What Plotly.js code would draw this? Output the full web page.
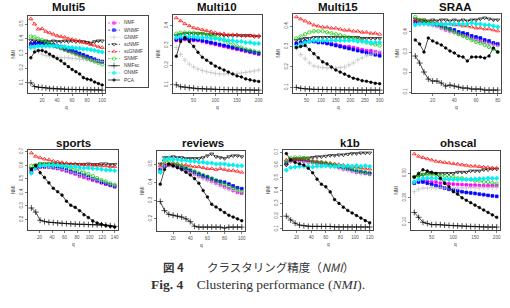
<!DOCTYPE html>
<html>
<head>
<meta charset="utf-8">
<script src="https://cdn.plot.ly/plotly-3.0.1.min.js"></script>
<style>
html, body { margin: 0; padding: 0; background: #fff; }
#chart { width: 510px; height: 308px; }
</style>
</head>
<body>
<div id="chart"></div>
<script>
// Methods compared, in drawing order
const methods = ['NMF', 'WNMF', 'GNMF', 'scNMF', 'scGNMF', 'SNMF', 'NMFsc', 'ONMF', 'PCA'];

// ---- Multi5 ----
const multi5Q = [5, 10, 15, 20, 25, 30, 35, 40, 45, 50, 55, 60, 65, 70, 75, 80, 85, 90, 95, 100];
const multi5NMI = [
  [0.36, 0.365, 0.365, 0.365, 0.36, 0.355, 0.35, 0.345, 0.335, 0.325, 0.315, 0.31, 0.30, 0.29, 0.28, 0.27, 0.26, 0.25, 0.245, 0.24],
  [0.365, 0.37, 0.37, 0.37, 0.365, 0.36, 0.36, 0.35, 0.345, 0.335, 0.325, 0.32, 0.31, 0.30, 0.29, 0.28, 0.27, 0.26, 0.25, 0.245],
  [0.35, 0.33, 0.31, 0.295, 0.285, 0.28, 0.275, 0.275, 0.27, 0.27, 0.27, 0.265, 0.265, 0.26, 0.26, 0.255, 0.255, 0.25, 0.25, 0.245],
  [0.39, 0.385, 0.385, 0.38, 0.385, 0.38, 0.385, 0.38, 0.38, 0.385, 0.38, 0.385, 0.38, 0.38, 0.38, 0.375, 0.37, 0.38, 0.385, 0.385],
  [0.535, 0.50, 0.465, 0.468, 0.45, 0.44, 0.43, 0.42, 0.415, 0.41, 0.40, 0.395, 0.39, 0.385, 0.375, 0.37, 0.36, 0.355, 0.345, 0.34],
  [0.415, 0.41, 0.40, 0.39, 0.375, 0.365, 0.355, 0.345, 0.335, 0.325, 0.315, 0.305, 0.295, 0.285, 0.275, 0.265, 0.255, 0.245, 0.235, 0.225],
  [0.10, 0.075, 0.07, 0.068, 0.065, 0.06, 0.06, 0.058, 0.058, 0.056, 0.055, 0.055, 0.054, 0.054, 0.053, 0.053, 0.052, 0.052, 0.052, 0.05],
  [0.34, 0.345, 0.35, 0.35, 0.35, 0.35, 0.35, 0.35, 0.345, 0.345, 0.34, 0.34, 0.335, 0.335, 0.33, 0.33, 0.325, 0.32, 0.315, 0.31],
  [0.27, 0.31, 0.32, 0.32, 0.31, 0.295, 0.28, 0.265, 0.25, 0.23, 0.21, 0.19, 0.175, 0.16, 0.135, 0.125, 0.12, 0.105, 0.095, 0.085]
];
const multi5XTicks = [20, 40, 60, 80, 100];
const multi5YTicks = [0.1, 0.2, 0.3, 0.4, 0.5];

// ---- Multi10 ----
const multi10Q = [10, 20, 30, 40, 50, 60, 70, 80, 90, 100, 110, 120, 130, 140, 150, 160, 170, 180, 190, 200];
const multi10NMI = [
  [0.325, 0.33, 0.33, 0.33, 0.325, 0.325, 0.32, 0.315, 0.31, 0.305, 0.30, 0.295, 0.29, 0.285, 0.28, 0.275, 0.27, 0.265, 0.26, 0.255],
  [0.33, 0.335, 0.335, 0.335, 0.33, 0.33, 0.325, 0.32, 0.315, 0.31, 0.305, 0.30, 0.295, 0.29, 0.285, 0.28, 0.275, 0.27, 0.265, 0.26],
  [0.29, 0.255, 0.225, 0.205, 0.19, 0.18, 0.172, 0.166, 0.162, 0.158, 0.155, 0.155, 0.155, 0.156, 0.158, 0.16, 0.163, 0.166, 0.17, 0.175],
  [0.35, 0.355, 0.36, 0.36, 0.36, 0.36, 0.36, 0.355, 0.355, 0.355, 0.355, 0.35, 0.35, 0.35, 0.35, 0.35, 0.35, 0.35, 0.345, 0.345],
  [0.44, 0.425, 0.41, 0.40, 0.39, 0.385, 0.38, 0.375, 0.37, 0.365, 0.36, 0.36, 0.355, 0.355, 0.355, 0.35, 0.35, 0.35, 0.35, 0.35],
  [0.36, 0.365, 0.365, 0.365, 0.365, 0.36, 0.36, 0.355, 0.35, 0.345, 0.335, 0.325, 0.315, 0.305, 0.295, 0.29, 0.28, 0.275, 0.27, 0.265],
  [0.10, 0.09, 0.088, 0.085, 0.083, 0.08, 0.08, 0.078, 0.078, 0.077, 0.076, 0.076, 0.075, 0.075, 0.075, 0.074, 0.074, 0.074, 0.073, 0.073],
  [0.34, 0.345, 0.345, 0.345, 0.345, 0.34, 0.34, 0.34, 0.335, 0.335, 0.33, 0.33, 0.325, 0.325, 0.32, 0.32, 0.315, 0.315, 0.31, 0.31],
  [0.245, 0.32, 0.34, 0.32, 0.295, 0.265, 0.24, 0.225, 0.21, 0.195, 0.185, 0.175, 0.165, 0.155, 0.145, 0.14, 0.13, 0.125, 0.12, 0.117]
];
const multi10XTicks = [50, 100, 150, 200];
const multi10YTicks = [0.1, 0.2, 0.3, 0.4];

// ---- Multi15 ----
const multi15Q = [15, 30, 45, 60, 75, 90, 105, 120, 135, 150, 165, 180, 195, 210, 225, 240, 255, 270, 285, 300];
const multi15NMI = [
  [0.31, 0.315, 0.32, 0.325, 0.325, 0.325, 0.32, 0.32, 0.315, 0.31, 0.305, 0.30, 0.30, 0.295, 0.29, 0.285, 0.28, 0.28, 0.275, 0.27],
  [0.315, 0.32, 0.325, 0.325, 0.325, 0.32, 0.32, 0.315, 0.31, 0.305, 0.30, 0.295, 0.29, 0.285, 0.28, 0.275, 0.27, 0.265, 0.26, 0.255],
  [0.29, 0.26, 0.24, 0.22, 0.205, 0.20, 0.197, 0.195, 0.195, 0.195, 0.197, 0.20, 0.21, 0.22, 0.235, 0.245, 0.255, 0.262, 0.27, 0.278],
  [0.33, 0.335, 0.34, 0.34, 0.345, 0.345, 0.345, 0.345, 0.345, 0.345, 0.345, 0.345, 0.345, 0.345, 0.345, 0.34, 0.34, 0.34, 0.34, 0.34],
  [0.445, 0.435, 0.425, 0.415, 0.405, 0.40, 0.395, 0.395, 0.39, 0.39, 0.385, 0.38, 0.38, 0.375, 0.375, 0.37, 0.37, 0.365, 0.365, 0.36],
  [0.34, 0.35, 0.36, 0.37, 0.375, 0.375, 0.375, 0.37, 0.365, 0.36, 0.355, 0.35, 0.345, 0.34, 0.335, 0.33, 0.32, 0.315, 0.31, 0.305],
  [0.10, 0.095, 0.093, 0.092, 0.09, 0.09, 0.09, 0.089, 0.089, 0.089, 0.088, 0.088, 0.088, 0.088, 0.087, 0.087, 0.087, 0.087, 0.087, 0.087],
  [0.30, 0.31, 0.32, 0.325, 0.33, 0.33, 0.33, 0.33, 0.33, 0.33, 0.33, 0.33, 0.33, 0.33, 0.325, 0.325, 0.325, 0.32, 0.32, 0.32],
  [0.295, 0.30, 0.305, 0.285, 0.265, 0.245, 0.225, 0.215, 0.20, 0.185, 0.175, 0.165, 0.155, 0.145, 0.14, 0.133, 0.13, 0.125, 0.12, 0.118]
];
const multi15XTicks = [50, 100, 150, 200, 250, 300];
const multi15YTicks = [0.1, 0.2, 0.3, 0.4];

// ---- SRAA ----
const sraaQ = [4, 8, 12, 16, 20, 24, 28, 32, 36, 40, 44, 48, 52, 56, 60, 64, 68, 72, 76, 80];
const sraaNMI = [
  [0.445, 0.445, 0.445, 0.44, 0.435, 0.43, 0.42, 0.41, 0.405, 0.40, 0.39, 0.385, 0.38, 0.37, 0.365, 0.355, 0.35, 0.345, 0.34, 0.335],
  [0.45, 0.45, 0.45, 0.445, 0.44, 0.435, 0.43, 0.42, 0.415, 0.41, 0.40, 0.395, 0.39, 0.38, 0.375, 0.37, 0.36, 0.355, 0.345, 0.34],
  [0.44, 0.44, 0.44, 0.435, 0.43, 0.425, 0.415, 0.41, 0.40, 0.395, 0.385, 0.38, 0.375, 0.365, 0.36, 0.35, 0.345, 0.34, 0.335, 0.33],
  [0.465, 0.46, 0.46, 0.455, 0.46, 0.455, 0.46, 0.46, 0.455, 0.46, 0.455, 0.46, 0.455, 0.46, 0.46, 0.465, 0.47, 0.465, 0.46, 0.46],
  [0.46, 0.455, 0.455, 0.45, 0.45, 0.445, 0.445, 0.44, 0.44, 0.435, 0.435, 0.43, 0.43, 0.425, 0.42, 0.42, 0.415, 0.415, 0.41, 0.405],
  [0.475, 0.46, 0.455, 0.45, 0.445, 0.44, 0.43, 0.42, 0.41, 0.40, 0.39, 0.38, 0.37, 0.36, 0.35, 0.345, 0.335, 0.325, 0.315, 0.30],
  [0.28, 0.245, 0.20, 0.165, 0.155, 0.155, 0.145, 0.13, 0.135, 0.13, 0.125, 0.12, 0.12, 0.115, 0.115, 0.115, 0.11, 0.11, 0.11, 0.11],
  [0.435, 0.44, 0.44, 0.44, 0.44, 0.44, 0.44, 0.44, 0.44, 0.44, 0.44, 0.44, 0.44, 0.445, 0.44, 0.44, 0.435, 0.435, 0.43, 0.425],
  [0.36, 0.34, 0.30, 0.37, 0.355, 0.345, 0.335, 0.32, 0.305, 0.295, 0.28, 0.275, 0.255, 0.275, 0.275, 0.275, 0.27, 0.28, 0.32, 0.30]
];
const sraaXTicks = [20, 40, 60, 80];
const sraaYTicks = [0.1, 0.2, 0.3, 0.4];

// ---- sports ----
const sportsQ = [7, 14, 21, 28, 35, 42, 49, 56, 63, 70, 77, 84, 91, 98, 105, 112, 119, 126, 133, 140];
const sportsNMI = [
  [0.545, 0.575, 0.585, 0.585, 0.585, 0.58, 0.575, 0.565, 0.555, 0.545, 0.535, 0.52, 0.51, 0.50, 0.49, 0.48, 0.47, 0.46, 0.45, 0.44],
  [0.555, 0.585, 0.59, 0.59, 0.59, 0.585, 0.58, 0.575, 0.565, 0.555, 0.545, 0.535, 0.525, 0.515, 0.50, 0.49, 0.475, 0.465, 0.455, 0.445],
  [0.55, 0.58, 0.59, 0.59, 0.585, 0.58, 0.575, 0.57, 0.56, 0.55, 0.54, 0.53, 0.52, 0.51, 0.50, 0.49, 0.48, 0.47, 0.46, 0.45],
  [0.575, 0.60, 0.61, 0.61, 0.61, 0.61, 0.61, 0.61, 0.605, 0.605, 0.605, 0.605, 0.605, 0.61, 0.605, 0.605, 0.61, 0.61, 0.605, 0.605],
  [0.69, 0.665, 0.655, 0.645, 0.64, 0.63, 0.625, 0.62, 0.615, 0.61, 0.61, 0.605, 0.605, 0.60, 0.60, 0.60, 0.595, 0.595, 0.59, 0.59],
  [0.595, 0.60, 0.61, 0.61, 0.61, 0.605, 0.60, 0.595, 0.59, 0.58, 0.57, 0.56, 0.545, 0.535, 0.52, 0.505, 0.49, 0.48, 0.465, 0.455],
  [0.285, 0.255, 0.195, 0.185, 0.18, 0.178, 0.175, 0.172, 0.17, 0.168, 0.166, 0.165, 0.165, 0.163, 0.163, 0.162, 0.162, 0.16, 0.155, 0.15],
  [0.54, 0.58, 0.595, 0.60, 0.60, 0.60, 0.60, 0.595, 0.595, 0.59, 0.59, 0.585, 0.58, 0.58, 0.575, 0.575, 0.57, 0.565, 0.565, 0.56],
  [0.57, 0.595, 0.545, 0.51, 0.47, 0.43, 0.405, 0.38, 0.335, 0.305, 0.29, 0.265, 0.235, 0.215, 0.19, 0.175, 0.165, 0.155, 0.15, 0.145]
];
const sportsXTicks = [20, 40, 60, 80, 100, 120, 140];
const sportsYTicks = [0.2, 0.3, 0.4, 0.5, 0.6, 0.7];

// ---- reviews ----
const reviewsQ = [5, 10, 15, 20, 25, 30, 35, 40, 45, 50, 55, 60, 65, 70, 75, 80, 85, 90, 95, 100];
const reviewsNMI = [
  [0.46, 0.49, 0.495, 0.49, 0.485, 0.475, 0.465, 0.455, 0.445, 0.435, 0.425, 0.415, 0.405, 0.395, 0.385, 0.375, 0.365, 0.355, 0.345, 0.34],
  [0.47, 0.49, 0.495, 0.495, 0.49, 0.48, 0.475, 0.465, 0.455, 0.445, 0.435, 0.43, 0.42, 0.41, 0.405, 0.40, 0.39, 0.38, 0.37, 0.365],
  [0.465, 0.49, 0.49, 0.485, 0.48, 0.47, 0.46, 0.45, 0.44, 0.43, 0.42, 0.41, 0.40, 0.39, 0.38, 0.37, 0.36, 0.355, 0.35, 0.345],
  [0.50, 0.535, 0.535, 0.54, 0.535, 0.535, 0.53, 0.53, 0.53, 0.53, 0.535, 0.545, 0.555, 0.54, 0.535, 0.53, 0.54, 0.545, 0.545, 0.54],
  [0.49, 0.505, 0.50, 0.50, 0.50, 0.495, 0.495, 0.49, 0.485, 0.485, 0.48, 0.475, 0.475, 0.47, 0.475, 0.47, 0.465, 0.465, 0.46, 0.455],
  [0.455, 0.515, 0.515, 0.505, 0.50, 0.49, 0.48, 0.47, 0.46, 0.45, 0.44, 0.43, 0.42, 0.41, 0.40, 0.39, 0.38, 0.37, 0.36, 0.35],
  [0.295, 0.245, 0.225, 0.22, 0.215, 0.21, 0.20, 0.185, 0.16, 0.155, 0.155, 0.155, 0.155, 0.155, 0.155, 0.15, 0.155, 0.155, 0.155, 0.155],
  [0.455, 0.525, 0.53, 0.525, 0.525, 0.52, 0.52, 0.515, 0.515, 0.51, 0.51, 0.505, 0.505, 0.50, 0.50, 0.50, 0.495, 0.495, 0.49, 0.49],
  [0.39, 0.47, 0.50, 0.49, 0.48, 0.47, 0.455, 0.44, 0.42, 0.395, 0.355, 0.32, 0.28, 0.265, 0.25, 0.235, 0.22, 0.21, 0.20, 0.19]
];
const reviewsXTicks = [20, 40, 60, 80, 100];
const reviewsYTicks = [0.2, 0.3, 0.4, 0.5];

// ---- k1b ----
const k1bQ = [6, 12, 18, 24, 30, 36, 42, 48, 54, 60, 66, 72, 78, 84, 90, 96, 102, 108, 114, 120];
const k1bNMI = [
  [0.61, 0.63, 0.635, 0.635, 0.63, 0.625, 0.62, 0.615, 0.61, 0.605, 0.595, 0.59, 0.58, 0.57, 0.565, 0.555, 0.545, 0.54, 0.535, 0.53],
  [0.615, 0.635, 0.64, 0.64, 0.635, 0.63, 0.625, 0.62, 0.615, 0.61, 0.60, 0.595, 0.585, 0.575, 0.57, 0.56, 0.55, 0.545, 0.54, 0.535],
  [0.605, 0.625, 0.63, 0.63, 0.625, 0.62, 0.615, 0.61, 0.605, 0.60, 0.59, 0.585, 0.575, 0.565, 0.56, 0.55, 0.54, 0.535, 0.53, 0.525],
  [0.60, 0.645, 0.65, 0.65, 0.655, 0.655, 0.66, 0.665, 0.665, 0.67, 0.675, 0.675, 0.68, 0.68, 0.685, 0.69, 0.69, 0.695, 0.695, 0.695],
  [0.64, 0.645, 0.645, 0.645, 0.645, 0.64, 0.635, 0.63, 0.625, 0.62, 0.615, 0.61, 0.605, 0.60, 0.595, 0.59, 0.585, 0.58, 0.575, 0.57],
  [0.63, 0.655, 0.66, 0.66, 0.655, 0.65, 0.625, 0.62, 0.62, 0.615, 0.61, 0.60, 0.595, 0.585, 0.58, 0.57, 0.56, 0.555, 0.545, 0.54],
  [0.20, 0.17, 0.145, 0.13, 0.125, 0.12, 0.12, 0.12, 0.12, 0.12, 0.12, 0.115, 0.115, 0.115, 0.115, 0.115, 0.115, 0.115, 0.115, 0.115],
  [0.56, 0.58, 0.585, 0.59, 0.59, 0.59, 0.585, 0.59, 0.59, 0.595, 0.59, 0.59, 0.595, 0.59, 0.595, 0.59, 0.595, 0.59, 0.595, 0.59],
  [0.69, 0.64, 0.62, 0.61, 0.60, 0.575, 0.54, 0.49, 0.45, 0.43, 0.39, 0.33, 0.30, 0.27, 0.245, 0.225, 0.205, 0.185, 0.165, 0.148]
];
const k1bXTicks = [20, 40, 60, 80, 100, 120];
const k1bYTicks = [0.1, 0.2, 0.3, 0.4, 0.5, 0.6, 0.7];

// ---- ohscal ----
const ohscalQ = [10, 20, 30, 40, 50, 60, 70, 80, 90, 100, 110, 120, 130, 140, 150, 160, 170, 180, 190, 200];
const ohscalNMI = [
  [0.265, 0.27, 0.27, 0.27, 0.265, 0.265, 0.26, 0.26, 0.258, 0.256, 0.255, 0.254, 0.253, 0.252, 0.252, 0.251, 0.25, 0.25, 0.25, 0.25],
  [0.26, 0.265, 0.265, 0.26, 0.255, 0.25, 0.245, 0.24, 0.235, 0.232, 0.228, 0.225, 0.222, 0.22, 0.218, 0.215, 0.213, 0.21, 0.208, 0.206],
  [0.225, 0.235, 0.24, 0.24, 0.242, 0.24, 0.242, 0.24, 0.241, 0.24, 0.24, 0.241, 0.24, 0.242, 0.241, 0.24, 0.242, 0.241, 0.242, 0.243],
  [0.285, 0.29, 0.295, 0.30, 0.30, 0.30, 0.30, 0.30, 0.30, 0.30, 0.305, 0.305, 0.305, 0.31, 0.31, 0.31, 0.315, 0.315, 0.318, 0.318],
  [0.38, 0.37, 0.365, 0.36, 0.355, 0.35, 0.348, 0.345, 0.343, 0.34, 0.338, 0.335, 0.333, 0.33, 0.33, 0.328, 0.326, 0.325, 0.323, 0.322],
  [0.285, 0.29, 0.295, 0.295, 0.295, 0.295, 0.29, 0.29, 0.285, 0.285, 0.28, 0.28, 0.275, 0.275, 0.27, 0.27, 0.265, 0.265, 0.26, 0.258],
  [0.14, 0.12, 0.10, 0.095, 0.09, 0.09, 0.09, 0.088, 0.087, 0.086, 0.085, 0.084, 0.083, 0.082, 0.082, 0.081, 0.08, 0.08, 0.08, 0.08],
  [0.265, 0.275, 0.28, 0.28, 0.28, 0.28, 0.278, 0.276, 0.275, 0.275, 0.275, 0.275, 0.275, 0.276, 0.277, 0.278, 0.278, 0.28, 0.28, 0.28],
  [0.285, 0.30, 0.315, 0.31, 0.305, 0.30, 0.28, 0.26, 0.245, 0.225, 0.215, 0.20, 0.19, 0.18, 0.17, 0.16, 0.15, 0.14, 0.13, 0.12]
];
const ohscalXTicks = [50, 100, 150, 200];
const ohscalYTicks = [0.10, 0.20, 0.30];
const ohscalYTickText = ['0.10', '0.20', '0.30'];

// ---- styling (one entry per method) ----
const methodColors = ['#ff00ff', '#0000ff', '#bebebe', '#000000', '#ff0000', '#00c800', '#000000', '#00f0f0', '#000000'];
const methodSymbols = ['square', 'square', 'cross-thin-open', 'triangle-down-open', 'triangle-up-open', 'circle-open', 'cross-thin-open', 'diamond', 'circle'];
const methodSizes = [2.6, 2.8, 3.6, 3.6, 3.6, 3.4, 4.2, 3.4, 2.6];
const methodDash = ['2px,1.6px', '2px,1.6px', '1px,1.6px', '2px,1.6px', '2px,1.6px', '2px,1.6px', 'solid', '2px,1.6px', 'solid'];

const W = 510, H = 308;
// panel frames in pixels: [left, right, top, bottom], plus title anchor
const panels = [
  { title: 'Multi5',  q: multi5Q,  nmi: multi5NMI,  xt: multi5XTicks,  yt: multi5YTicks,  box: [28, 105, 16, 93],  tpos: [69, 7] },
  { title: 'Multi10', q: multi10Q, nmi: multi10NMI, xt: multi10XTicks, yt: multi10YTicks, box: [173, 262, 15, 93], tpos: [217, 7] },
  { title: 'Multi15', q: multi15Q, nmi: multi15NMI, xt: multi15XTicks, yt: multi15YTicks, box: [293, 383, 14, 93], tpos: [338, 7] },
  { title: 'SRAA',    q: sraaQ,    nmi: sraaNMI,    xt: sraaXTicks,    yt: sraaYTicks,    box: [412, 501, 14, 93], tpos: [455, 7] },
  { title: 'sports',  q: sportsQ,  nmi: sportsNMI,  xt: sportsXTicks,  yt: sportsYTicks,  box: [28, 118, 150, 230], tpos: [73, 143] },
  { title: 'reviews', q: reviewsQ, nmi: reviewsNMI, xt: reviewsXTicks, yt: reviewsYTicks, box: [157, 245, 151, 231], tpos: [203, 143] },
  { title: 'k1b',     q: k1bQ,     nmi: k1bNMI,     xt: k1bXTicks,     yt: k1bYTicks,     box: [283, 373, 150, 230], tpos: [350, 143] },
  { title: 'ohscal',  q: ohscalQ,  nmi: ohscalNMI,  xt: ohscalXTicks,  yt: ohscalYTicks,  ytt: ohscalYTickText, box: [411, 500, 151, 230], tpos: [458, 143] }
];

const px = v => v / W;
const py = v => 1 - v / H;

const tickFont = { family: 'Liberation Sans, Arial, sans-serif', size: 4.6, color: '#555' };
const traces = [];
const layout = {
  width: W, height: H,
  margin: { l: 0, r: 0, t: 0, b: 0 },
  paper_bgcolor: '#fff', plot_bgcolor: '#fff',
  showlegend: false,
  annotations: [],
  shapes: []
};

// R-style range: data extent padded by 4% on both sides
function paddedRange(arr) {
  let lo = Infinity, hi = -Infinity;
  arr.forEach(v => { if (v < lo) lo = v; if (v > hi) hi = v; });
  const pad = (hi - lo) * 0.04;
  return [lo - pad, hi + pad];
}

panels.forEach((p, i) => {
  const n = i + 1;
  const sx = n === 1 ? '' : String(n);
  const [l, r, t, b] = p.box;

  p.nmi.forEach((vals, s) => {
    traces.push({
      type: 'scatter', mode: 'lines+markers',
      x: p.q, y: vals, name: methods[s],
      xaxis: 'x' + sx, yaxis: 'y' + sx,
      line: { color: methodColors[s], width: 0.7, dash: methodDash[s] },
      marker: {
        symbol: methodSymbols[s], size: methodSizes[s], color: methodColors[s],
        line: { color: methodColors[s], width: 0.7 }
      },
      hoverinfo: 'skip'
    });
  });

  const allY = [].concat(...p.nmi);
  const common = {
    showline: true, mirror: true, linecolor: '#333', linewidth: 0.9,
    ticks: 'outside', ticklen: 2.2, tickwidth: 0.7, tickcolor: '#444',
    showgrid: false, zeroline: false, tickfont: tickFont, fixedrange: true
  };
  layout['xaxis' + sx] = Object.assign({}, common, {
    domain: [px(l), px(r)], anchor: 'y' + sx,
    range: paddedRange(p.q), tickmode: 'array', tickvals: p.xt
  });
  layout['yaxis' + sx] = Object.assign({}, common, {
    domain: [py(b), py(t)], anchor: 'x' + sx,
    range: paddedRange(allY), tickmode: 'array', tickvals: p.yt,
    ticktext: p.ytt || p.yt.map(v => String(v)), tickangle: -90
  });

  layout.annotations.push({
    xref: 'paper', yref: 'paper', x: px(p.tpos[0]), y: py(p.tpos[1]),
    text: '<b>' + p.title + '</b>', showarrow: false, xanchor: 'center', yanchor: 'middle',
    font: { family: 'Liberation Sans, Arial, sans-serif', size: 11.5, color: '#111' }
  });
  layout.annotations.push({
    xref: 'paper', yref: 'paper', x: px(l - 15), y: py((t + b) / 2),
    text: 'NMI', textangle: -90, showarrow: false, xanchor: 'center', yanchor: 'middle',
    font: { family: 'Liberation Sans, Arial, sans-serif', size: 4.6, color: '#444' }
  });
  layout.annotations.push({
    xref: 'paper', yref: 'paper', x: px((l + r) / 2), y: py(b + 14),
    text: 'q', showarrow: false, xanchor: 'center', yanchor: 'middle',
    font: { family: 'Liberation Sans, Arial, sans-serif', size: 4.8, color: '#444' }
  });
});

// legend box beside Multi5, drawn on its own small axis
const legBox = [106, 148, 16, 87];
layout.xaxis9 = {
  domain: [px(legBox[0]), px(legBox[1])], anchor: 'y9', range: [0, 1],
  showline: true, mirror: true, linecolor: '#333', linewidth: 0.9,
  showticklabels: false, ticks: '', showgrid: false, zeroline: false, fixedrange: true
};
layout.yaxis9 = {
  domain: [py(legBox[3]), py(legBox[2])], anchor: 'x9', range: [8.98, -0.98],
  showline: true, mirror: true, linecolor: '#333', linewidth: 0.9,
  showticklabels: false, ticks: '', showgrid: false, zeroline: false, fixedrange: true
};
methods.forEach((m, s) => {
  traces.push({
    type: 'scatter', mode: 'lines+markers',
    x: [0.05, 0.19, 0.33], y: [s, s, s], xaxis: 'x9', yaxis: 'y9',
    line: { color: methodColors[s], width: 0.7, dash: methodDash[s] },
    marker: {
      symbol: methodSymbols[s], size: [0, methodSizes[s], 0], color: methodColors[s],
      line: { color: methodColors[s], width: 0.7 }
    },
    hoverinfo: 'skip'
  });
  layout.annotations.push({
    xref: 'x9', yref: 'y9', x: 0.39, y: s, text: m, showarrow: false,
    xanchor: 'left', yanchor: 'middle',
    font: { family: 'Liberation Sans, Arial, sans-serif', size: 4.8, color: '#333' }
  });
});

// figure captions
layout.annotations.push({
  xref: 'paper', yref: 'paper', x: px(258), y: py(267),
  text: '<b>図 4</b>\u3000\u3000クラスタリング精度（<i>NMI</i>）', showarrow: false,
  xanchor: 'center', yanchor: 'middle',
  font: { family: 'Noto Sans CJK JP, sans-serif', size: 11.5, color: '#333' }
});
layout.annotations.push({
  xref: 'paper', yref: 'paper', x: px(258), y: py(284),
  text: '<b>Fig. 4</b>\u00a0\u00a0\u00a0\u00a0Clustering performance (<i>NMI</i>).', showarrow: false,
  xanchor: 'center', yanchor: 'middle',
  font: { family: 'Liberation Serif, DejaVu Serif, serif', size: 13.5, color: '#333' }
});

Plotly.newPlot('chart', traces, layout, { staticPlot: true, displayModeBar: false });
</script>
</body>
</html>
